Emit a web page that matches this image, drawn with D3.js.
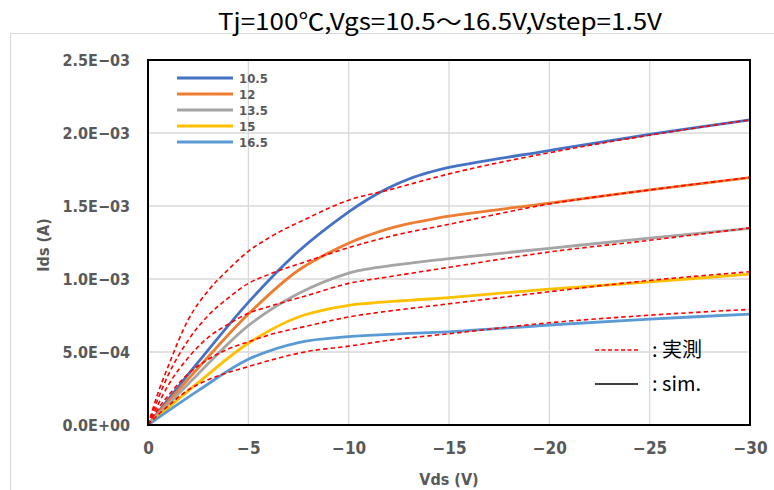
<!DOCTYPE html>
<html>
<head>
<meta charset="utf-8">
<script src="https://cdn.jsdelivr.net/npm/d3@7"></script>
<style>
  html, body { margin: 0; padding: 0; background: #fff; }
  svg { display: block; }
</style>
</head>
<body>
<svg id="chart" width="774" height="490"></svg>
<script>
// ---------- data ----------
const titleText = "Tj=100℃,Vgs=10.5～16.5V,Vstep=1.5V";
const seriesNames = ["10.5", "12", "13.5", "15", "16.5"];
const seriesColors = ["#4472C4", "#ED7D31", "#A5A5A5", "#FFC000", "#5B9BD5"];

// simulated curves (solid), Ids in x1e-3 A
const simV = [0, -2.5, -5, -7.5, -10, -11, -12, -13, -14, -15, -20, -25, -30];
const sim105 = [0, 0.43, 0.84, 1.19, 1.46, 1.55, 1.625, 1.685, 1.73, 1.765, 1.88, 1.99, 2.09];
const sim12  = [0, 0.39, 0.76, 1.06, 1.245, 1.30, 1.345, 1.38, 1.405, 1.43, 1.52, 1.61, 1.695];
const sim135 = [0, 0.35, 0.68, 0.90, 1.04, 1.07, 1.09, 1.107, 1.124, 1.14, 1.21, 1.28, 1.347];
const sim15  = [0, 0.29, 0.56, 0.74, 0.82, 0.834, 0.845, 0.854, 0.863, 0.873, 0.93, 0.98, 1.034];
const sim165 = [0, 0.235, 0.45, 0.565, 0.605, 0.614, 0.621, 0.627, 0.633, 0.638, 0.685, 0.725, 0.76];

// measured curves (red dashed), x1e-3 A
const measV = [0, -0.5, -1, -2, -3, -4, -5, -6, -8, -10, -12, -15, -20, -25, -30];
const meas105 = [0, 0.22, 0.40, 0.72, 0.92, 1.065, 1.19, 1.28, 1.42, 1.54, 1.61, 1.72, 1.865, 1.985, 2.09];
const meas12  = [0, 0.18, 0.34, 0.58, 0.75, 0.87, 0.97, 1.03, 1.125, 1.215, 1.29, 1.375, 1.514, 1.61, 1.696];
const meas135 = [0, 0.14, 0.27, 0.46, 0.60, 0.69, 0.765, 0.81, 0.89, 0.97, 1.015, 1.08, 1.185, 1.265, 1.35];
const meas15  = [0, 0.11, 0.20, 0.35, 0.45, 0.52, 0.57, 0.615, 0.68, 0.74, 0.78, 0.83, 0.913, 0.99, 1.05];
const meas165 = [0, 0.07, 0.13, 0.24, 0.31, 0.36, 0.40, 0.44, 0.505, 0.54, 0.58, 0.625, 0.70, 0.752, 0.792];

const xTicks = [0, -5, -10, -15, -20, -25, -30];
const xTickLabels = ["0", "−5", "−10", "−15", "−20", "−25", "−30"];
const yTicks = [0, 0.0005, 0.001, 0.0015, 0.002, 0.0025];
const yTickLabels = ["0.0E+00", "5.0E−04", "1.0E−03", "1.5E−03", "2.0E−03", "2.5E−03"];
const xTitle = "Vds (V)";
const yTitle = "Ids (A)";
const legendMeas = ": 実測";
const legendSim = ": sim.";

// ---------- layout ----------
const svg = d3.select("#chart");
const L = 148, R = 750, T = 60, B = 425;
const x = d3.scaleLinear().domain([0, -30]).range([L, R]);
const y = d3.scaleLinear().domain([0, 0.0025]).range([B, T]);

const tickFont = "'Liberation Sans Narrow','DejaVu Sans Condensed','Roboto',sans-serif";
const gray = "#595959";

// outer chart frame
svg.append("rect").attr("x", 10.5).attr("y", 33.5).attr("width", 900).attr("height", 600)
  .attr("fill", "none").attr("stroke", "#d9d9d9").attr("stroke-width", 1);

// title
svg.append("text").attr("x", 440).attr("y", 30).attr("text-anchor", "middle")
  .attr("font-family", "'Noto Sans CJK JP','Noto Sans',sans-serif").attr("font-size", 23)
  .attr("fill", "#000").attr("textLength", 444).attr("lengthAdjust", "spacingAndGlyphs")
  .text(titleText);

// gridlines
const grid = svg.append("g");
grid.selectAll("line.v").data(xTicks).join("line")
  .attr("x1", d => x(d)).attr("x2", d => x(d)).attr("y1", T).attr("y2", B)
  .attr("stroke", "#d9d9d9").attr("stroke-width", 1.3);
grid.selectAll("line.h").data(yTicks).join("line")
  .attr("x1", L).attr("x2", R).attr("y1", d => y(d)).attr("y2", d => y(d))
  .attr("stroke", "#d9d9d9").attr("stroke-width", 1.3);

// axes (labels via d3 axis)
const xAxis = d3.axisBottom(x).tickValues(xTicks).tickSize(0).tickPadding(17)
  .tickFormat((d, i) => xTickLabels[i]);
const gx = svg.append("g").attr("transform", `translate(0,${B})`).call(xAxis);
gx.select(".domain").remove();
gx.selectAll("text").attr("font-family", tickFont).attr("font-size", 17)
  .attr("font-weight", "bold").attr("fill", gray);

const yAxis = d3.axisLeft(y).tickValues(yTicks).tickSize(0).tickPadding(18)
  .tickFormat((d, i) => yTickLabels[i]);
const gy = svg.append("g").attr("transform", `translate(${L},0)`).call(yAxis);
gy.select(".domain").remove();
gy.selectAll("text").attr("font-family", tickFont).attr("font-size", 16)
  .attr("font-weight", "bold").attr("fill", gray);

// axis titles
svg.append("text").attr("x", (L + R) / 2).attr("y", 485).attr("text-anchor", "middle")
  .attr("font-family", tickFont).attr("font-size", 16).attr("font-weight", "bold")
  .attr("fill", gray).text(xTitle);
svg.append("text").attr("transform", "translate(49,245) rotate(-90)").attr("text-anchor", "middle")
  .attr("font-family", tickFont).attr("font-size", 16).attr("font-weight", "bold")
  .attr("fill", gray).text(yTitle);

// clip
svg.append("clipPath").attr("id", "clip").append("rect")
  .attr("x", L).attr("y", T).attr("width", R - L).attr("height", B - T);

const plot = svg.append("g").attr("clip-path", "url(#clip)");

const simSeries = [sim105, sim12, sim135, sim15, sim165];
const measSeries = [meas105, meas12, meas135, meas15, meas165];

const simLine = d3.line().x(d => x(d[0])).y(d => y(d[1] * 1e-3)).curve(d3.curveCatmullRom.alpha(0.5));
const measLine = d3.line().x(d => x(d[0])).y(d => y(d[1] * 1e-3)).curve(d3.curveMonotoneX);

simSeries.forEach((s, i) => {
  plot.append("path").datum(simV.map((v, k) => [v, s[k]]))
    .attr("d", simLine).attr("fill", "none").attr("stroke", seriesColors[i])
    .attr("stroke-width", 2.8).attr("stroke-linejoin", "round");
});
measSeries.forEach((s) => {
  plot.append("path").datum(measV.map((v, k) => [v, s[k]]))
    .attr("d", measLine).attr("fill", "none").attr("stroke", "#FF0000")
    .attr("stroke-width", 1.6).attr("stroke-dasharray", "4.5,3");
});

// plot frame
svg.append("rect").attr("x", L).attr("y", T).attr("width", R - L).attr("height", B - T)
  .attr("fill", "none").attr("stroke", "#000").attr("stroke-width", 2);

// series legend (top-left)
const lg = svg.append("g");
seriesNames.forEach((n, i) => {
  const yy = 78 + i * 16;
  lg.append("line").attr("x1", 177).attr("x2", 233).attr("y1", yy).attr("y2", yy)
    .attr("stroke", seriesColors[i]).attr("stroke-width", 2.8);
  lg.append("text").attr("x", 239).attr("y", yy + 5).attr("font-family", tickFont)
    .attr("font-size", 13).attr("font-weight", "bold").attr("fill", gray).text(n);
});

// measured / sim legend (bottom-right)
svg.append("line").attr("x1", 595).attr("x2", 638).attr("y1", 350).attr("y2", 350)
  .attr("stroke", "#FF0000").attr("stroke-width", 1.6).attr("stroke-dasharray", "4,2.5");
svg.append("text").attr("x", 652).attr("y", 357).attr("font-family", "'Noto Sans CJK JP',sans-serif")
  .attr("font-size", 20).attr("fill", "#000").text(legendMeas);
svg.append("line").attr("x1", 595).attr("x2", 638).attr("y1", 384).attr("y2", 384)
  .attr("stroke", "#000").attr("stroke-width", 1.6);
svg.append("text").attr("x", 652).attr("y", 391).attr("font-family", "'Noto Sans CJK JP',sans-serif")
  .attr("font-size", 20).attr("fill", "#000").text(legendSim);
</script>
</body>
</html>
